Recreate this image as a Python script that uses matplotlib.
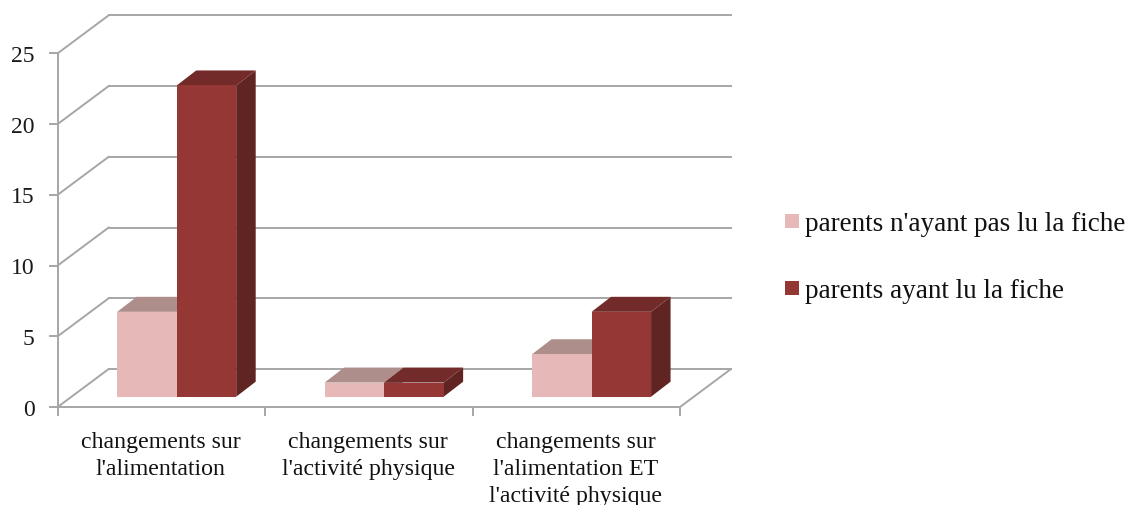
import matplotlib
matplotlib.use("Agg")
import matplotlib.pyplot as plt
from matplotlib.patches import Polygon, Rectangle

categories = ["changements sur\nl'alimentation", "changements sur\nl'activité physique",
              "changements sur\nl'alimentation ET\nl'activité physique"]
series_names = ["parents n'ayant pas lu la fiche", "parents ayant lu la fiche"]
not_read = [6, 1, 3]
read = [22, 1, 6]
yticks = [0, 5, 10, 15, 20, 25]

W, H = 1134, 506
plt.rcParams['font.family'] = ['Liberation Serif', 'DejaVu Serif']
fig = plt.figure(figsize=(W/100, H/100), dpi=100)
fig.patch.set_facecolor('white')
ax = fig.add_axes([57.7/W, 1-408/H, 622.3/W, 353.7/H])
ax.set_xlim(0, 3)
ax.set_ylim(0, 25)
ax.axis('off')

px = 3/622.3    # data per px in x
py = 25/353.7   # data per px in y
wall_dx, wall_dy = 51*px, 38*py
floor_dy = 10.3*py
bar_dx, bar_dy = 19.5*px, 15*py
bar_w = 59.5*px
grid_c = '#a6a6a6'
lw = 1.4

kw = dict(clip_on=False)
for v in yticks:
    ax.plot([0, wall_dx], [v, v+wall_dy], color=grid_c, lw=lw, **kw)
    ax.plot([wall_dx, 3+wall_dx], [v+wall_dy, v+wall_dy], color=grid_c, lw=lw, **kw)
    ax.plot([-8*px, 0], [v, v], color=grid_c, lw=lw, **kw)
    ax.text(-23*px, v-2.2*py, str(v), ha='right', va='center', fontsize=17, color='#1a1a1a')
ax.plot([0, 0], [0, 25], color=grid_c, lw=lw, **kw)
ax.plot([0, 3], [0, 0], color=grid_c, lw=lw, **kw)
ax.plot([3, 3+wall_dx], [0, wall_dy], color=grid_c, lw=lw, **kw)
for i in range(4):
    ax.plot([i, i], [0, -8*py], color=grid_c, lw=lw, **kw)

def bar3d(x0, val, front, top, side):
    y0 = floor_dy
    x1 = x0 + bar_w
    ax.add_patch(Polygon([(x1, y0), (x1+bar_dx, y0+bar_dy), (x1+bar_dx, y0+val+bar_dy), (x1, y0+val)],
                         fc=side, ec='none', zorder=3, **kw))
    ax.add_patch(Polygon([(x0, y0+val), (x1, y0+val), (x1+bar_dx, y0+val+bar_dy), (x0+bar_dx, y0+val+bar_dy)],
                         fc=top, ec='none', zorder=3, **kw))
    ax.add_patch(Rectangle((x0, y0), bar_w, val, fc=front, ec='none', zorder=4, **kw))

pink = ('#e6b9b8', '#ae8e8b', '#8f7371')
red = ('#953735', '#722b29', '#602523')
for i in range(3):
    x0 = i + 59.5*px
    bar3d(x0, not_read[i], *pink)
    bar3d(x0 + bar_w, read[i], *red)
    ax.text(i+0.5-0.5*px, -24*py, categories[i], ha='center', va='top', fontsize=17.2,
            linespacing=1.36, color='#111111')

for y, base, name, col in [(221.5, 231, series_names[0], pink[0]), (289, 298, series_names[1], red[0])]:
    fig.patches.append(Rectangle((785/W, 1-(y+7)/H), 14/W, 14/H, transform=fig.transFigure, fc=col, ec='none'))
    fig.text(805/W, 1-base/H, name, ha='left', va='baseline', fontsize=19.5, color='#111111')

fig.savefig('out.png', dpi=100)
